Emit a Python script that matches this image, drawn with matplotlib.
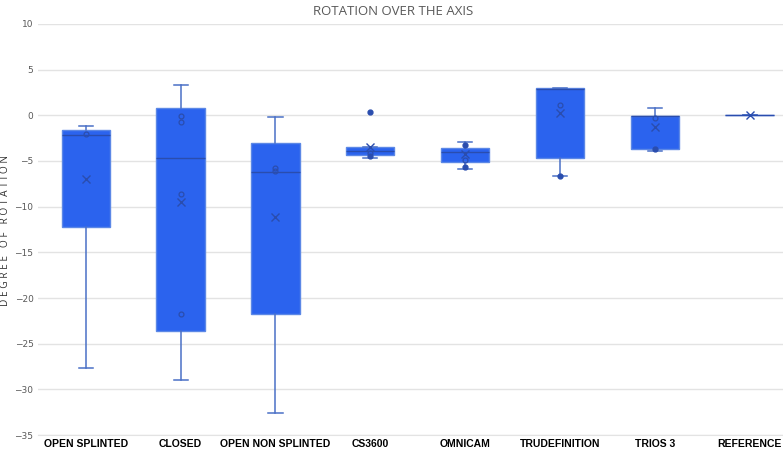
import matplotlib
matplotlib.use("Agg")
import matplotlib.pyplot as plt

categories = ["OPEN SPLINTED", "CLOSED", "OPEN NON SPLINTED", "CS3600",
              "OMNICAM", "TRUDEFINITION", "TRIOS 3", "REFERENCE"]
whislo = [-27.7, -29.0, -32.6, -4.68, -5.9, -6.68, -3.9, 0.0]
q1     = [-12.27, -23.6, -21.7, -4.35, -5.15, -4.7, -3.66, 0.0]
med    = [-2.1, -4.7, -6.2, -3.87, -4.0, 2.9, -0.1, 0.0]
q3     = [-1.65, 0.83, -3.0, -3.5, -3.6, 3.0, -0.1, 0.0]
whishi = [-1.14, 3.3, -0.19, -3.5, -2.96, 3.0, 0.83, 0.0]
means  = [-7.0, -9.46, -11.1, -3.5, -4.27, 0.3, -1.25, 0.0]
hollow_points = [[-2.0], [-0.04, -0.77, -8.65, -21.8], [-5.8, -6.07],
                 [-4.1], [-4.9], [1.13], [-0.33], []]
filled_points = [[], [], [], [0.36, -4.5], [-3.3, -5.7], [-6.68], [-3.7], []]
yticks = list(range(-35, 11, 5))

fill = "#2B63EE"
edge = "#5C88E6"
line = "#4A70C6"
dark = "#2A4DAE"

fig = plt.figure(figsize=(7.83, 4.5), dpi=100)
ax = fig.add_axes([0.049, 0.0333, 0.969, 0.9134])

stats = []
for i in range(len(categories)):
    stats.append(dict(label=categories[i], whislo=whislo[i], q1=q1[i], med=med[i],
                      q3=q3[i], whishi=whishi[i], mean=means[i], fliers=[]))
pos = list(range(1, len(categories) + 1))
ax.bxp(stats, positions=pos, widths=0.51, patch_artist=True, showmeans=True,
       showfliers=False, capwidths=0.15,
       boxprops=dict(facecolor=fill, edgecolor=edge, linewidth=1.0),
       whiskerprops=dict(color=line, linewidth=1.1),
       capprops=dict(color=line, linewidth=1.1),
       medianprops=dict(color=dark, linewidth=1.0),
       meanprops=dict(marker="x", markeredgecolor=dark, markersize=6, markeredgewidth=1.0))

for i, p in enumerate(pos):
    if hollow_points[i]:
        ax.plot([p] * len(hollow_points[i]), hollow_points[i], "o", ms=3.5,
                mfc="none", mec=dark, mew=0.9, zorder=4)
    if filled_points[i]:
        ax.plot([p] * len(filled_points[i]), filled_points[i], "o", ms=3.5,
                mfc=dark, mec=dark, zorder=4)

ax.set_xlim(0.5, 8.5)
ax.set_ylim(-35, 10)
ax.set_yticks(yticks)
ax.yaxis.grid(True, color="#E3E3E3", linewidth=1.0)
ax.set_axisbelow(True)
for s in ["top", "right", "left"]:
    ax.spines[s].set_visible(False)
ax.spines["bottom"].set_color("#E3E3E3")
ax.tick_params(axis="y", length=0, labelsize=6.5, labelcolor="#595959", pad=3.5)
ax.tick_params(axis="x", length=0, pad=3)
ax.set_xticks(pos)
ax.set_xticklabels(categories, fontsize=7.5, fontweight="bold",
                   family="Liberation Sans", color="black")
for t in ax.get_yticklabels():
    t.set_family("Liberation Sans Narrow")
fig.text(6 / 783, 1 - 230 / 450, "D E G R E E   O F   R O T A T I O N",
         rotation=90, ha="center", va="center", fontsize=7.3,
         color="#333333", family="Open Sans")
fig.text(0.502, 0.975, "ROTATION OVER THE AXIS", ha="center", va="center",
         fontsize=9.5, color="#595959", family="Open Sans")

fig.savefig("out.png", dpi=100)
